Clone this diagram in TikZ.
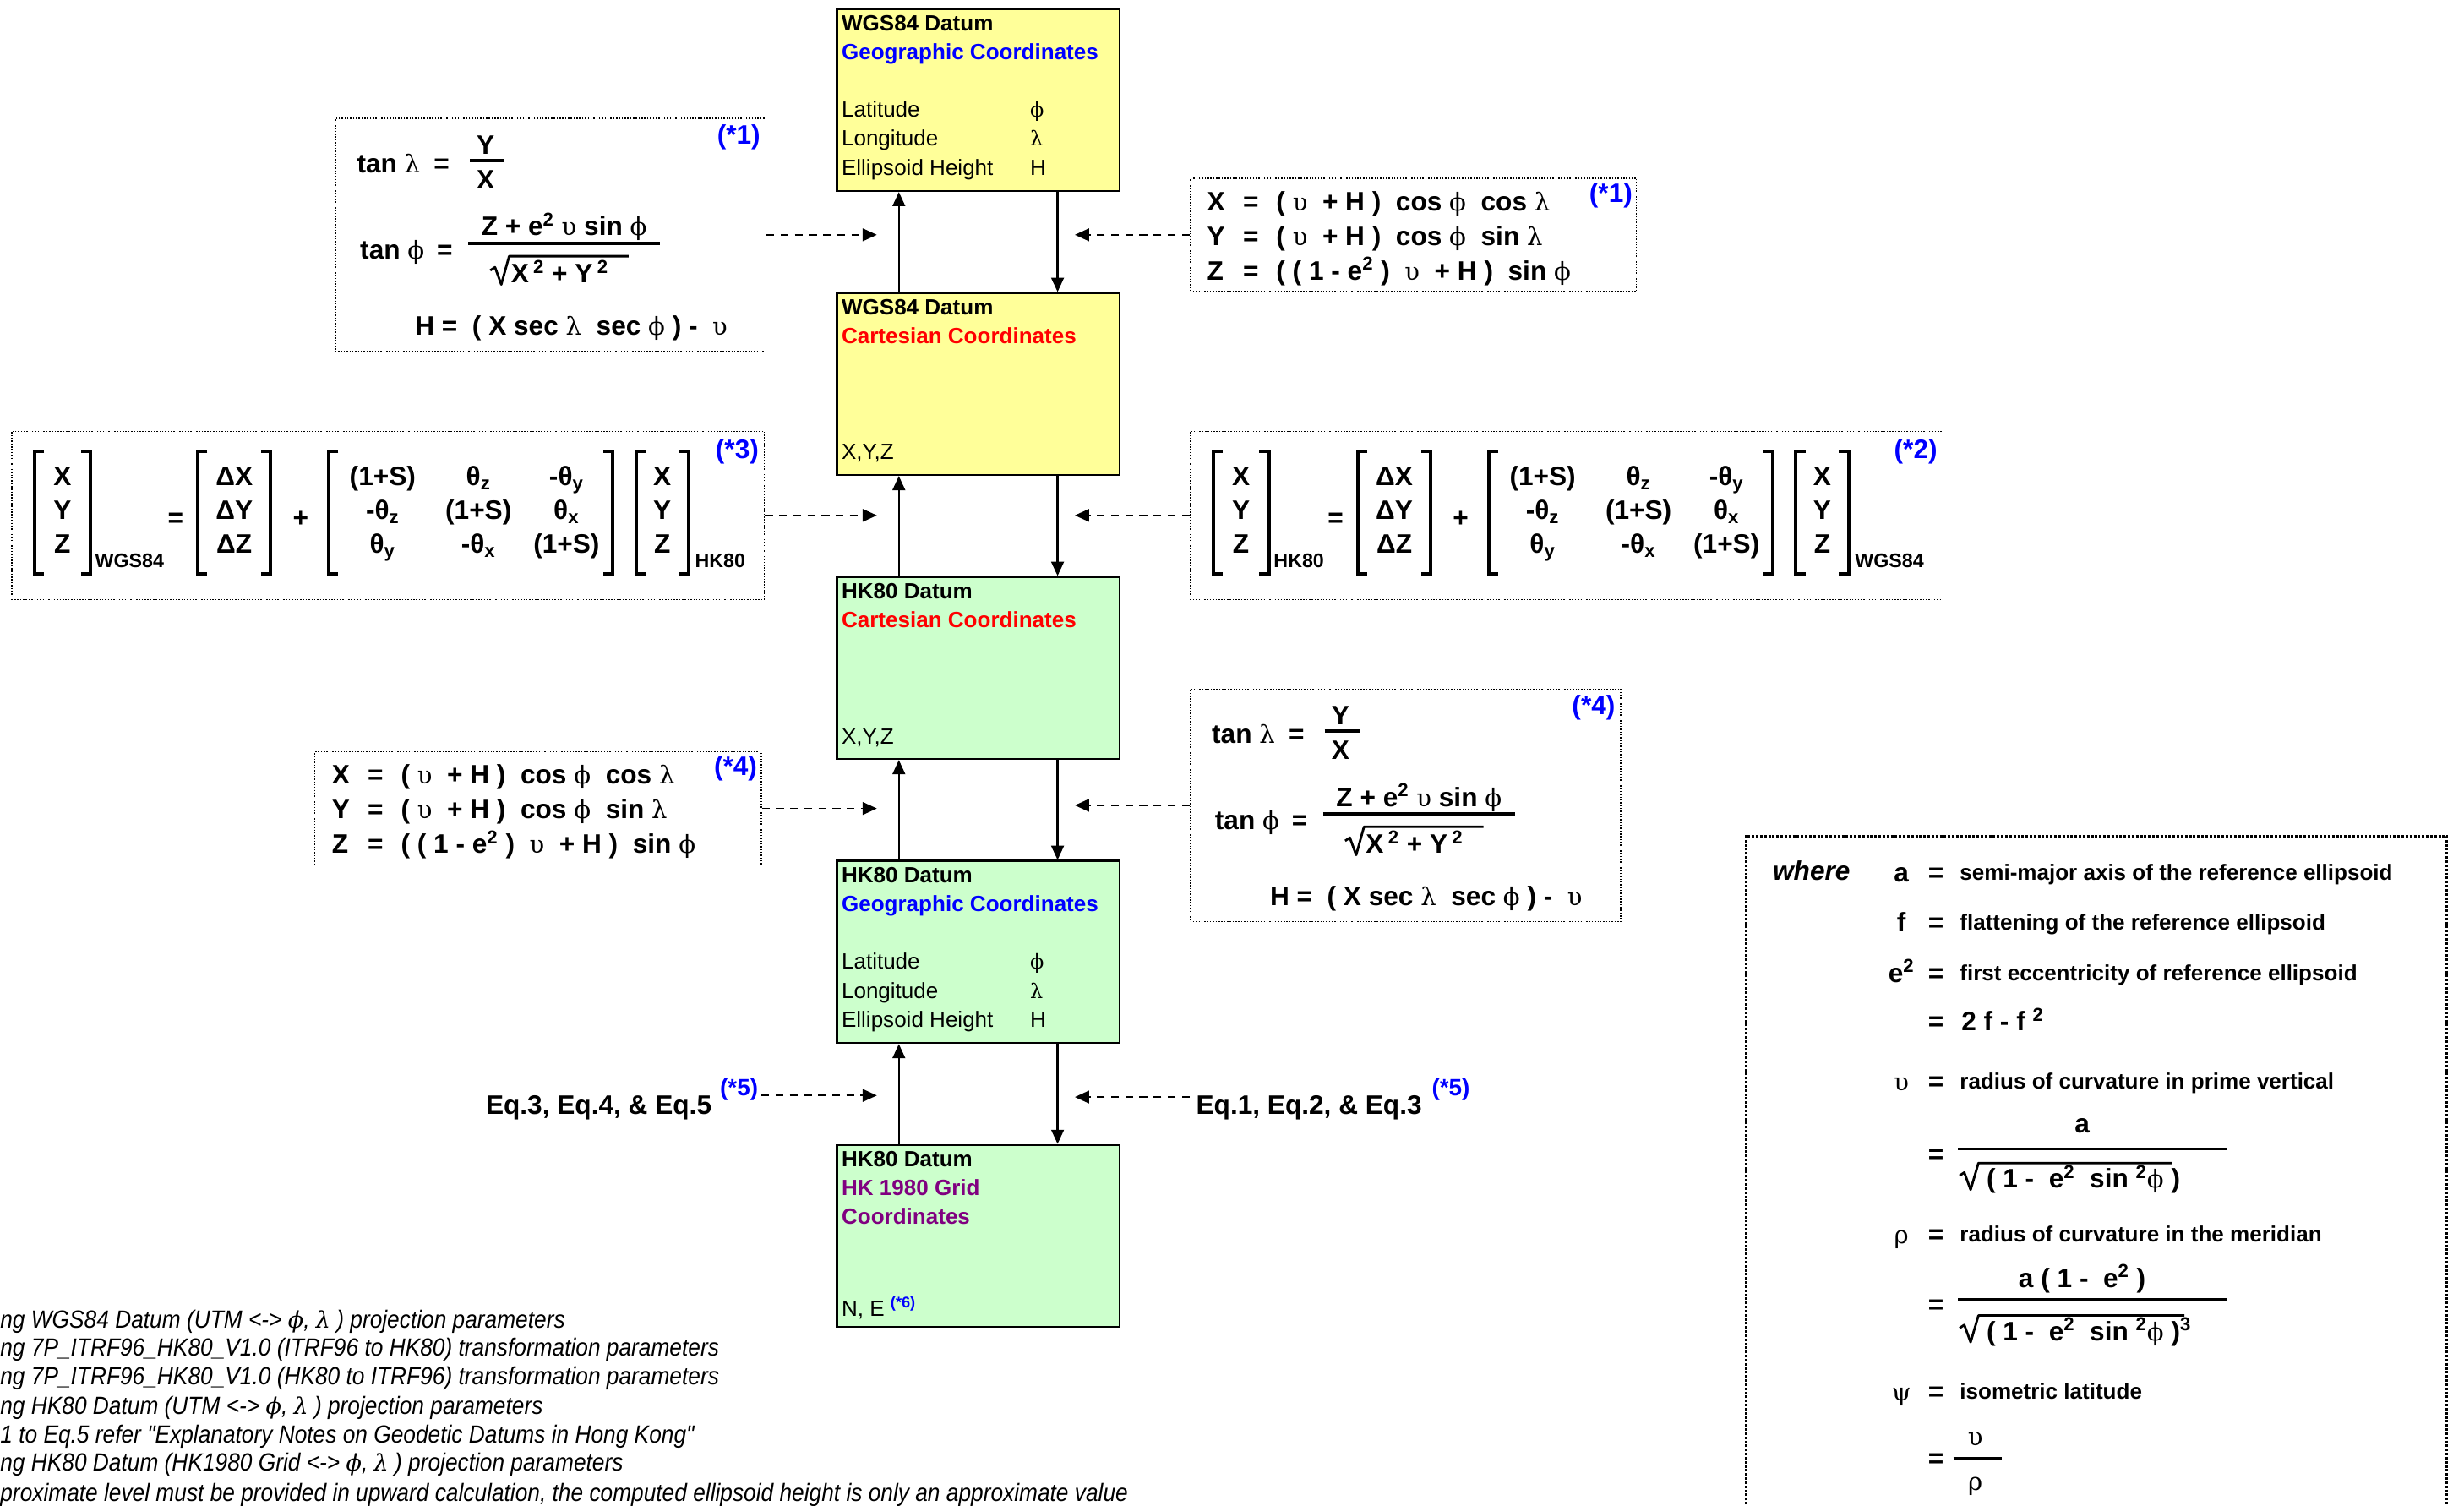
\documentclass[tikz,border=0pt]{standalone}
\usepackage{fontspec}
\setmainfont{Liberation Sans}
\newfontfamily\gk[Scale=0.92]{DejaVu Serif}
\newfontfamily\nrw[FakeStretch=0.895]{Liberation Sans}
\usetikzlibrary{arrows.meta, positioning}

\definecolor{boxyellow}{HTML}{FFFF99}
\definecolor{boxgreen}{HTML}{CCFFCC}
\definecolor{gridpurple}{HTML}{800080}

\newcommand{\gphi}{{\gk\mdseries ϕ}}
\newcommand{\glam}{{\gk\mdseries λ}}
\newcommand{\gups}{{\gk\mdseries υ}}
\newcommand{\grho}{{\gk\mdseries ρ}}
\newcommand{\gpsi}{{\gk\mdseries ψ}}
\newcommand{\sq}{\textsuperscript{2}}

\begin{document}
\begin{tikzpicture}[x=1pt, y=-1pt,
    mainbox/.style={draw, line width=1.2pt, anchor=north west, inner xsep=3pt, inner ysep=4pt,
        font=\fontsize{14}{18.4}\selectfont},
    conn/.style={line width=1.2pt, -{Triangle[length=9pt, width=8pt]}},
    dconn/.style={line width=0.9pt, dash pattern=on 5pt off 4pt, -{Triangle[length=9pt, width=8pt]}},
    eqbox/.style={draw, densely dotted, line width=0.8pt, anchor=north west, inner sep=0pt},
    eq/.style={font=\bfseries\fontsize{17}{21.5}\selectfont, inner sep=0pt, anchor=base west},
    tag/.style={font=\bfseries\fontsize{17}{17}\selectfont, text=blue, inner sep=0pt, anchor=north east},
    sub/.style={font=\bfseries\fontsize{12.5}{12.5}\selectfont, inner sep=0pt, anchor=base west},
    vec/.style={font=\bfseries\fontsize{17}{21.5}\selectfont, inner sep=0pt, anchor=west, minimum height=78pt},
    brk/.style={line width=2.2pt},
    rule/.style={line width=2pt},
    root/.style={line width=1.5pt, line join=round},
    desc/.style={font=\bfseries\fontsize{14}{14}\selectfont, inner sep=0pt, anchor=base west},
    note/.style={font=\nrw\itshape\fontsize{15.8}{15.8}\selectfont, inner sep=0pt, anchor=base west}]

\useasboundingbox (0,0) rectangle (1568,958);

% datum boxes
\node[mainbox, fill=boxyellow] (b1) at (532,5) {\parbox[c][108pt][t]{174pt}{\textbf{WGS84 Datum}\\
    \textbf{\color{blue}Geographic Coordinates}\\[18.4pt]
    \makebox[120pt][l]{Latitude}\gphi\\
    \makebox[120pt][l]{Longitude}\glam\\
    \makebox[120pt][l]{Ellipsoid Height}H}};
\node[mainbox, fill=boxyellow, below=63.5pt of b1] (b2) {\parbox[c][108pt][t]{174pt}{\textbf{WGS84 Datum}\\
    \textbf{\color{red}Cartesian Coordinates}\par\vfill X,Y,Z\vspace{4pt}}};
\node[mainbox, fill=boxgreen, below=63.5pt of b2] (b3) {\parbox[c][108pt][t]{174pt}{\textbf{HK80 Datum}\\
    \textbf{\color{red}Cartesian Coordinates}\par\vfill X,Y,Z\vspace{4pt}}};
\node[mainbox, fill=boxgreen, below=63.5pt of b3] (b4) {\parbox[c][108pt][t]{174pt}{\textbf{HK80 Datum}\\
    \textbf{\color{blue}Geographic Coordinates}\\[18.4pt]
    \makebox[120pt][l]{Latitude}\gphi\\
    \makebox[120pt][l]{Longitude}\glam\\
    \makebox[120pt][l]{Ellipsoid Height}H}};
\node[mainbox, fill=boxgreen, below=63.5pt of b4] (b5) {\parbox[c][108pt][t]{174pt}{\textbf{HK80 Datum}\\
    \textbf{\color{gridpurple}HK 1980 Grid}\\
    \textbf{\color{gridpurple}Coordinates}\par\vfill N, E \textsuperscript{\textbf{\color{blue}(*6)}}\vspace{1pt}}};

\foreach \a/\b in {b1/b2, b2/b3, b3/b4, b4/b5} {
    \draw[conn] ([xshift=40pt]\b.north west) -- ([xshift=40pt]\a.south west);
    \draw[conn] ([xshift=141pt]\a.south west) -- ([xshift=141pt]\b.north west);
}
\coordinate (inL) at (558,0);
\coordinate (inR) at (684,0);

% tan formulas
\foreach \bx/\by/\t in {213/75/1, 757/438/4} {
    \begin{scope}[shift={(\bx,\by)}]
        \node[eqbox, minimum width=274pt, minimum height=148pt] (tf\t) at (0,0) {};
        \node[tag] (tft\t) at (271,4) {(*\t)};
        \node[eq] (tla\t) at (14,35) {tan \glam};
        \node[eq, anchor=base] (tlb\t) at (68,35) {=};
        \node[eq, anchor=base] (tlc\t) at (96,23) {Y};
        \node[eq, anchor=base] (tld\t) at (96,45) {X};
        \draw[rule] (86,27) -- (108,27);
        \node[eq] (tpa\t) at (16,90) {tan \gphi};
        \node[eq, anchor=base] (tpb\t) at (70,90) {=};
        \node[eq, anchor=base] (tpc\t) at (146,75) {Z + e\sq\ \gups\ sin \gphi};
        \node[eq] (tpd\t) at (112,105) {X\,\sq\ + Y\,\sq};
        \draw[rule] (85,80) -- (207,80);
        \draw[root] (99,97) -- (102,95) -- (106,106) -- (111,88) -- (187,88);
        \node[eq] (tha\t) at (51,138) {H =\ \ ( X sec \glam\ \ sec \gphi\ ) -\ \ \gups};
    \end{scope}
}

% X Y Z formulas
\foreach \bx/\by/\t in {757/113/1, 200/478/4} {
    \begin{scope}[shift={(\bx,\by)}]
        \node[eqbox, minimum width=284pt, minimum height=72pt] (cv\t) at (0,0) {};
        \node[tag] (cvt\t) at (282,3) {(*\t)};
        \foreach \v/\r/\yy in {X/{( \gups\ \ + H )\ \ cos \gphi\ \ cos \glam}/21,
                Y/{( \gups\ \ + H )\ \ cos \gphi\ \ sin \glam}/43,
                Z/{( ( 1 - e\sq\ )\ \ \gups\ \ + H )\ \ sin \gphi}/65} {
            \node[eq] (cva\t\v) at (11,\yy) {\v};
            \node[eq, anchor=base] (cvb\t\v) at (39,\yy) {=};
            \node[eq] (cvc\t\v) at (55,\yy) {\r};
        }
    \end{scope}
}

% 7 parameter transformations
\foreach \bx/\t/\sa/\sb in {7/3/WGS84/HK80, 757/2/HK80/WGS84} {
    \begin{scope}[shift={(\bx,274)}]
        \node[eqbox, minimum width=479pt, minimum height=107pt] (mf\t) at (0,0) {};
        \node[tag] (mft\t) at (476,5) {(*\t)};
        \node[vec, anchor=north west, minimum width=35pt] (lhs\t) at (15,13)
            {\begin{tabular}{@{}c@{}}X\\Y\\Z\end{tabular}};
        \node[sub] (lsb\t) at ([xshift=3pt, yshift=4.5pt]lhs\t.south east) {\sa};
        \node[eq] (meq\t) at ([xshift=2pt]lsb\t.east |- 0,61) {=};
        \node[vec, minimum width=46pt] (dlt\t) at ([xshift=9pt]meq\t.east |- lhs\t.west)
            {\begin{tabular}{@{}c@{}}ΔX\\ΔY\\ΔZ\end{tabular}};
        \node[eq, anchor=base] (mpl\t) at ([xshift=19pt]dlt\t.east |- 0,61) {+};
        \node[vec, minimum width=180pt] (rot\t) at ([xshift=37pt]dlt\t.east)
            {\begin{tabular}{@{}c@{}}
            \makebox[66pt]{(1+S)}\makebox[56pt]{θ\textsubscript{z}}\makebox[56pt]{-θ\textsubscript{y}}\\
            \makebox[66pt]{-θ\textsubscript{z}}\makebox[56pt]{(1+S)}\makebox[56pt]{θ\textsubscript{x}}\\
            \makebox[66pt]{θ\textsubscript{y}}\makebox[56pt]{-θ\textsubscript{x}}\makebox[56pt]{(1+S)}
            \end{tabular}};
        \node[vec, minimum width=33pt] (rhs\t) at ([xshift=15pt]rot\t.east)
            {\begin{tabular}{@{}c@{}}X\\Y\\Z\end{tabular}};
        \node[sub] (rsb\t) at ([xshift=4pt, yshift=4.5pt]rhs\t.south east) {\sb};
        \foreach \m in {lhs, dlt, rot, rhs} {
            \draw[brk] ([xshift=6pt]\m\t.north west) -- (\m\t.north west) -- (\m\t.south west) -- ([xshift=6pt]\m\t.south west);
            \draw[brk] ([xshift=-6pt]\m\t.north east) -- (\m\t.north east) -- (\m\t.south east) -- ([xshift=-6pt]\m\t.south east);
        }
    \end{scope}
}

% links to the conversions
\draw[dconn] (tf1.east) -- (tf1.east -| inL);
\draw[dconn] (cv1.west) -- (cv1.west -| inR);
\draw[dconn] (mf3.east) -- (mf3.east -| inL);
\draw[dconn] (mf2.west) -- (mf2.west -| inR);
\draw[dconn] (cv4.east) -- (cv4.east -| inL);
\draw[dconn] (tf4.west) -- (tf4.west -| inR);

% grid projection
\node[eq, anchor=base east] (eql) at (453,709) {Eq.3, Eq.4, \& Eq.5};
\node[tag, font=\bfseries\fontsize{15}{15}\selectfont, anchor=base west] (eqlt) at (458,697) {(*5)};
\node[eq] (eqr) at (761,709) {Eq.1, Eq.2, \& Eq.3};
\node[tag, font=\bfseries\fontsize{15}{15}\selectfont, anchor=base west] (eqrt) at (911,697) {(*5)};
\coordinate (eqra) at ([xshift=-4pt, yshift=11pt]eqr.base west);
\draw[dconn] ([xshift=2pt]eqlt.base east) -- (eqlt.base east -| inL);
\draw[dconn] (eqra) -- (eqra -| inR);

% notes
\foreach \yy/\txt in {845/{ng WGS84 Datum (UTM <-> \gphi, \glam\ ) projection parameters},
        863/{ng 7P\_ITRF96\_HK80\_V1.0 (ITRF96 to HK80) transformation parameters},
        881/{ng 7P\_ITRF96\_HK80\_V1.0 (HK80 to ITRF96) transformation parameters},
        900/{ng HK80 Datum (UTM <-> \gphi, \glam\ ) projection parameters},
        918/{1 to Eq.5 refer "Explanatory Notes on Geodetic Datums in Hong Kong"},
        936/{ng HK80 Datum (HK1980 Grid <-> \gphi, \glam\ ) projection parameters},
        955/{proximate level must be provided in upward calculation, the computed ellipsoid height is only an approximate value}} {
    \node[note] (nt\yy) at (0,\yy) {\txt};
}

% symbols
\draw[densely dotted, line width=1.6pt] (1111,965) -- (1111,532) -- (1557,532) -- (1557,965);
\node[eq, font=\bfseries\itshape\fontsize{17}{17}\selectfont] (wh) at (1128,560) {where};
\foreach \s/\d/\yy in {a/semi-major axis of the reference ellipsoid/555,
        f/flattening of the reference ellipsoid/587,
        {e\sq}/first eccentricity of reference ellipsoid/619,
        \gups/radius of curvature in prime vertical/688,
        \grho/radius of curvature in the meridian/785,
        \gpsi/isometric latitude/885} {
    \node[eq, anchor=base] (ws\yy) at (1210,\yy+6) {\s};
    \node[desc] (wd\yy) at (1247,\yy+5) {\d};
}
\foreach \yy in {555,587,619,650,688,734,785,830,885,928}
    \node[eq, anchor=base] (wq\yy) at (1232,\yy+6) {=};
\node[eq] (wf) at (1248,656) {2 f - f \textsuperscript{2}};

\node[eq, anchor=base] (wn1) at (1325,721) {a};
\draw[rule] (1246,731) -- (1417,731);
\draw[root] (1247,748) -- (1250,746) -- (1254,757) -- (1259,740) -- (1382,740);
\node[eq] (wd1) at (1264,756) {( 1 -\ \ e\sq\ \ sin \textsuperscript{2}\gphi\ )};

\node[eq, anchor=base] (wn2) at (1325,819) {a ( 1 -\ \ e\sq\ )};
\draw[rule] (1246,827) -- (1417,827);
\draw[root] (1247,845) -- (1250,843) -- (1254,854) -- (1259,837) -- (1390,837);
\node[eq] (wd2) at (1264,853) {( 1 -\ \ e\sq\ \ sin \textsuperscript{2}\gphi\ )\textsuperscript{3}};

\node[eq, anchor=base] (wn3) at (1257,920) {\gups};
\draw[rule] (1243,928) -- (1274,928);
\node[eq, anchor=base] (wd3) at (1257,948) {\grho};
\end{tikzpicture}
\end{document}
